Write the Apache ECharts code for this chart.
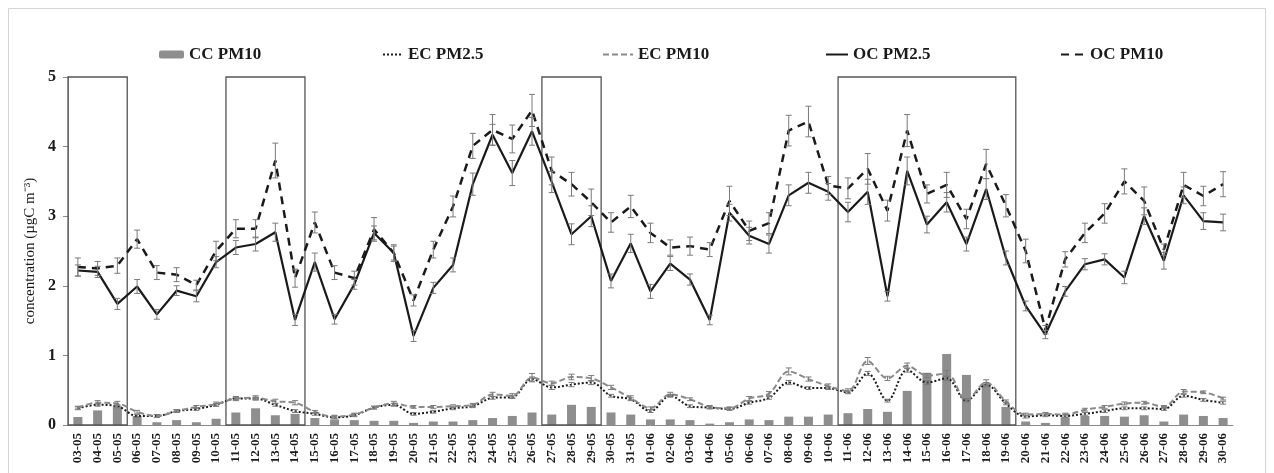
<!DOCTYPE html>
<html>
<head>
<meta charset="utf-8">
<script src="https://cdn.jsdelivr.net/npm/echarts@6/dist/echarts.min.js"></script>
<style>
  html, body { margin: 0; padding: 0; background: #fff; }
  #chart { width: 1274px; height: 473px; }
</style>
</head>
<body>
<div id="chart"></div>
<script>
// Sampling days (dd-mm)
const days = ['03-05','04-05','05-05','06-05','07-05','08-05','09-05','10-05','11-05','12-05',
  '13-05','14-05','15-05','16-05','17-05','18-05','19-05','20-05','21-05','22-05',
  '23-05','24-05','25-05','26-05','27-05','28-05','29-05','30-05','31-05','01-06',
  '02-06','03-06','04-06','05-06','06-06','07-06','08-06','09-06','10-06','11-06',
  '12-06','13-06','14-06','15-06','16-06','17-06','18-06','19-06','20-06','21-06',
  '22-06','23-06','24-06','25-06','26-06','27-06','28-06','29-06','30-06'];

// Concentrations, µgC m-3
const ccPM10 = [0.115,0.21,0.27,0.13,0.04,0.07,0.04,0.09,0.18,0.24,
  0.14,0.16,0.10,0.08,0.07,0.06,0.06,0.03,0.05,0.05,
  0.07,0.10,0.13,0.18,0.15,0.29,0.26,0.18,0.15,0.08,
  0.08,0.07,0.02,0.04,0.08,0.07,0.12,0.12,0.15,0.17,
  0.23,0.19,0.49,0.75,1.02,0.72,0.60,0.26,0.05,0.03,
  0.11,0.13,0.13,0.12,0.14,0.05,0.15,0.13,0.10];

const ecPM25 = [0.24,0.29,0.27,0.13,0.13,0.20,0.23,0.29,0.38,0.38,
  0.29,0.20,0.16,0.11,0.14,0.25,0.29,0.16,0.19,0.24,
  0.27,0.39,0.40,0.66,0.54,0.58,0.61,0.42,0.37,0.20,
  0.42,0.27,0.25,0.23,0.32,0.39,0.61,0.53,0.53,0.47,
  0.74,0.35,0.79,0.61,0.67,0.35,0.58,0.31,0.12,0.14,
  0.13,0.16,0.20,0.24,0.24,0.23,0.42,0.36,0.32];

const ecPM10 = [0.25,0.32,0.31,0.19,0.13,0.20,0.26,0.30,0.38,0.39,
  0.34,0.32,0.19,0.12,0.15,0.25,0.31,0.26,0.26,0.27,
  0.29,0.44,0.42,0.68,0.60,0.69,0.67,0.54,0.39,0.24,
  0.44,0.37,0.26,0.24,0.38,0.45,0.77,0.66,0.56,0.49,
  0.92,0.67,0.85,0.71,0.74,0.36,0.61,0.34,0.15,0.16,
  0.15,0.22,0.26,0.31,0.32,0.26,0.48,0.47,0.38];

const ocPM25 = [2.22,2.20,1.74,1.99,1.59,1.93,1.85,2.34,2.55,2.60,
  2.77,1.51,2.34,1.52,2.02,2.76,2.47,1.28,1.97,2.30,
  3.46,4.17,3.62,4.22,3.49,2.74,3.00,2.07,2.61,1.92,
  2.32,2.09,1.51,3.05,2.72,2.60,3.30,3.48,3.35,3.06,
  3.35,1.85,3.65,2.88,3.20,2.60,3.39,2.40,1.71,1.30,
  1.92,2.31,2.38,2.12,3.00,2.36,3.30,2.93,2.91];

const ocPM10 = [2.27,2.25,2.29,2.67,2.19,2.16,2.01,2.50,2.82,2.82,
  3.80,2.11,2.91,2.19,2.11,2.81,2.47,1.79,2.52,3.14,
  4.01,4.24,4.11,4.52,3.65,3.46,3.20,2.91,3.14,2.76,
  2.55,2.57,2.52,3.22,2.79,2.90,4.23,4.36,3.44,3.40,
  3.68,3.08,4.23,3.32,3.45,2.96,3.75,3.15,2.50,1.37,
  2.38,2.76,3.04,3.50,3.22,2.52,3.45,3.29,3.46];

// Standard deviations (error bars)
const ocPM10Err = [0.13,0.10,0.11,0.13,0.10,0.10,0.07,0.14,0.13,0.13,
  0.25,0.13,0.15,0.10,0.10,0.17,0.12,0.08,0.12,0.15,
  0.18,0.22,0.20,0.23,0.20,0.17,0.19,0.14,0.16,0.14,
  0.11,0.13,0.10,0.21,0.14,0.15,0.22,0.22,0.13,0.15,
  0.22,0.15,0.23,0.13,0.18,0.14,0.21,0.16,0.17,0.06,
  0.11,0.14,0.14,0.18,0.20,0.08,0.18,0.14,0.18];

const ocPM25Err = [0.08,0.08,0.08,0.10,0.07,0.07,0.08,0.08,0.10,0.10,
  0.13,0.08,0.13,0.07,0.07,0.10,0.10,0.08,0.08,0.10,
  0.16,0.15,0.18,0.20,0.15,0.15,0.15,0.10,0.13,0.10,
  0.10,0.08,0.07,0.12,0.12,0.13,0.15,0.15,0.12,0.14,
  0.18,0.07,0.20,0.12,0.14,0.10,0.15,0.10,0.07,0.06,
  0.07,0.08,0.08,0.09,0.12,0.12,0.12,0.12,0.12];

const ecPM10Err = [0.02,0.03,0.03,0.02,0.02,0.02,0.02,0.03,0.03,0.03,
  0.03,0.03,0.02,0.02,0.02,0.02,0.03,0.02,0.02,0.02,
  0.02,0.03,0.03,0.06,0.03,0.04,0.04,0.03,0.03,0.02,
  0.03,0.02,0.02,0.02,0.03,0.03,0.05,0.03,0.03,0.03,
  0.05,0.03,0.04,0.03,0.04,0.02,0.04,0.02,0.02,0.02,
  0.02,0.02,0.02,0.02,0.02,0.02,0.03,0.02,0.02];

const ecPM25Err = [0.02,0.02,0.02,0.02,0.02,0.02,0.02,0.02,0.02,0.02,
  0.02,0.02,0.02,0.02,0.02,0.02,0.02,0.02,0.02,0.02,
  0.02,0.02,0.02,0.03,0.03,0.03,0.03,0.02,0.02,0.02,
  0.02,0.02,0.02,0.02,0.02,0.02,0.03,0.02,0.02,0.02,
  0.03,0.02,0.03,0.03,0.03,0.02,0.03,0.02,0.02,0.02,
  0.02,0.02,0.02,0.02,0.02,0.02,0.02,0.02,0.02];

// Highlighted periods: first and last day of each
const periods = [['03-05','05-05'], ['11-05','14-05'], ['27-05','29-05'], ['11-06','19-06']];

const SERIF = '"Liberation Serif", "Times New Roman", serif';

function errData(vals, errs) {
  return vals.map((v, i) => [i, v - errs[i], v + errs[i]]);
}

function renderErr(params, api) {
  const x = api.value(0);
  const lo = api.coord([x, api.value(1)]);
  const hi = api.coord([x, api.value(2)]);
  const hw = 3;
  const st = { stroke: '#7a7a7a', lineWidth: 1 };
  return {
    type: 'group',
    children: [
      { type: 'line', shape: { x1: lo[0], y1: lo[1], x2: hi[0], y2: hi[1] }, style: st },
      { type: 'line', shape: { x1: lo[0] - hw, y1: lo[1], x2: lo[0] + hw, y2: lo[1] }, style: st },
      { type: 'line', shape: { x1: hi[0] - hw, y1: hi[1], x2: hi[0] + hw, y2: hi[1] }, style: st }
    ]
  };
}

function renderBox(params, api) {
  const bw = api.size([1, 0])[0];
  const a = api.coord([api.value(0), api.value(1)]);
  const b = api.coord([api.value(2), api.value(3)]);
  const left = a[0] - bw / 2, right = b[0] + bw / 2;
  return {
    type: 'rect',
    shape: { x: left, y: b[1], width: right - left, height: a[1] - b[1] },
    style: { fill: 'none', stroke: '#555', lineWidth: 1.3 },
    z2: 1
  };
}

const boxData = periods.map(p => [days.indexOf(p[0]), 0, days.indexOf(p[1]), 5]);

function legendAt(name, left, w, h, isLine) {
  const lg = {
    data: [name], left: left, top: 41, itemWidth: w, itemHeight: h, itemGap: 4,
    textStyle: { fontFamily: SERIF, fontWeight: 'bold', fontSize: 17, color: '#1a1a1a' }
  };
  // line keys show the stroke only, no point marker
  if (isLine) lg.itemStyle = { opacity: 0 };
  return lg;
}

const chart = echarts.init(document.getElementById('chart'), null, { renderer: 'canvas' });
chart.setOption({
  animation: false,
  backgroundColor: '#fff',
  graphic: [{
    type: 'rect', silent: true,
    shape: { x: 8.5, y: 8.5, width: 1257, height: 480 },
    style: { fill: 'none', stroke: '#d4d4d4', lineWidth: 1 }
  }],
  legend: [
    legendAt('CC PM10', 154, 25, 8, false),
    legendAt('EC PM2.5', 377, 20, 10, true),
    legendAt('EC PM10', 597, 30, 10, true),
    legendAt('OC PM2.5', 820, 22, 10, true),
    legendAt('OC PM10', 1055, 24, 10, true)
  ],
  grid: { left: 68, right: 41, top: 77, bottom: 48 },
  xAxis: {
    type: 'category', data: days, boundaryGap: true,
    axisLine: { lineStyle: { color: '#8a8a8a', width: 1 } },
    axisTick: { length: 5, lineStyle: { color: '#8a8a8a' } },
    axisLabel: {
      interval: 0, rotate: 90, margin: 8,
      fontFamily: SERIF, fontWeight: 'bold', fontSize: 13, color: '#1a1a1a'
    }
  },
  yAxis: {
    type: 'value', min: 0, max: 5, interval: 1,
    name: 'concentration (µgC m⁻³)', nameLocation: 'middle', nameGap: 27, nameRotate: 90,
    nameTextStyle: { fontFamily: SERIF, fontSize: 15, color: '#1a1a1a' },
    axisLine: { show: true, lineStyle: { color: '#8a8a8a' } },
    axisTick: { show: true, length: 5, lineStyle: { color: '#8a8a8a' } },
    splitLine: { show: false },
    axisLabel: { fontFamily: SERIF, fontWeight: 'bold', fontSize: 16, color: '#1a1a1a', margin: 12 }
  },
  series: [
    {
      name: 'CC PM10', type: 'bar', data: ccPM10, barWidth: 9,
      itemStyle: { color: '#8e8e8e' }, z: 1
    },
    {
      name: 'EC PM2.5', type: 'line', data: ecPM25, smooth: 0.35, showSymbol: false, symbol: 'none',
      lineStyle: { color: '#1a1a1a', width: 2, type: [2, 2] }, itemStyle: { color: '#1a1a1a' }, z: 3
    },
    {
      name: 'EC PM10', type: 'line', data: ecPM10, smooth: 0.35, showSymbol: false, symbol: 'none',
      lineStyle: { color: '#8a8a8a', width: 2, type: [6, 3] }, itemStyle: { color: '#8a8a8a' }, z: 3
    },
    {
      name: 'OC PM2.5', type: 'line', data: ocPM25, showSymbol: false, symbol: 'none',
      lineStyle: { color: '#1a1a1a', width: 2.2 }, itemStyle: { color: '#1a1a1a' }, z: 4
    },
    {
      name: 'OC PM10', type: 'line', data: ocPM10, showSymbol: false, symbol: 'none',
      lineStyle: { color: '#1a1a1a', width: 2.5, type: [8, 6] }, itemStyle: { color: '#1a1a1a' }, z: 4
    },
    { type: 'custom', renderItem: renderErr, data: errData(ocPM10, ocPM10Err), encode: { x: 0, y: [1, 2] }, z: 5, silent: true },
    { type: 'custom', renderItem: renderErr, data: errData(ocPM25, ocPM25Err), encode: { x: 0, y: [1, 2] }, z: 5, silent: true },
    { type: 'custom', renderItem: renderErr, data: errData(ecPM10, ecPM10Err), encode: { x: 0, y: [1, 2] }, z: 5, silent: true },
    { type: 'custom', renderItem: renderErr, data: errData(ecPM25, ecPM25Err), encode: { x: 0, y: [1, 2] }, z: 5, silent: true },
    { type: 'custom', renderItem: renderBox, data: boxData, encode: { x: [0, 2], y: [1, 3] }, z: 2, silent: true }
  ]
});
</script>
</body>
</html>
